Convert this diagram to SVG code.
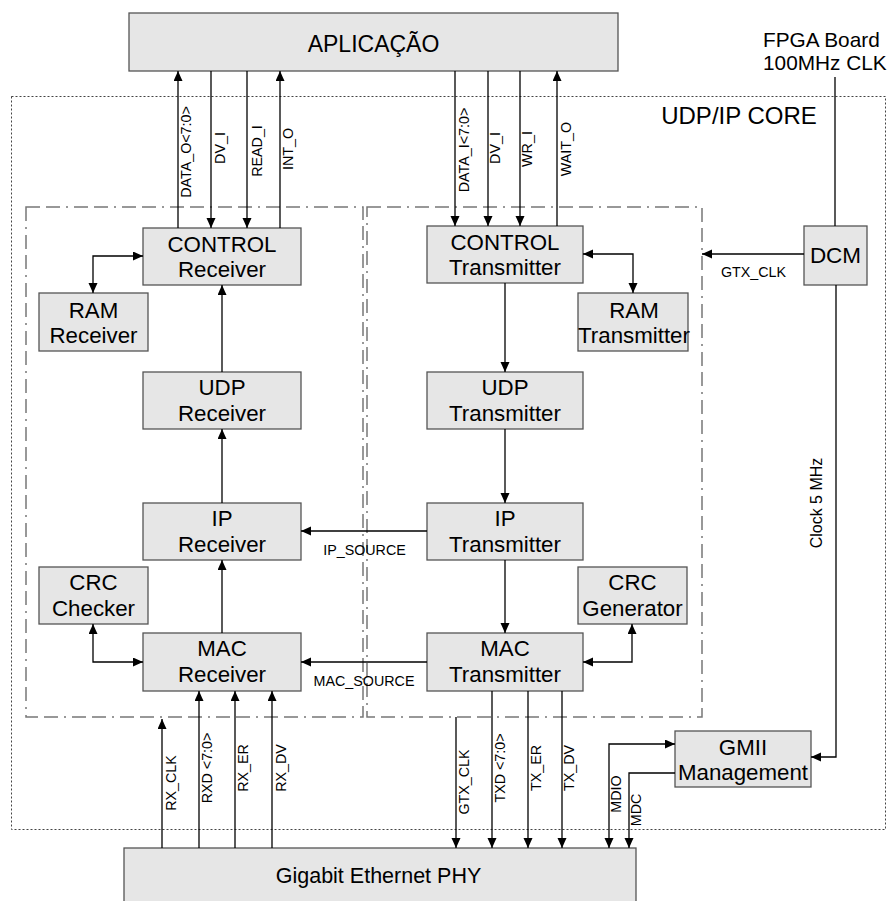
<svg xmlns="http://www.w3.org/2000/svg" width="887" height="901" viewBox="0 0 887 901">
<style>
text{font-family:"Liberation Sans",Arial,sans-serif;fill:#000}
.box{fill:#e6e6e6;stroke:#555;stroke-width:1.3}
.t{font-size:22.3px;text-anchor:middle}
.s{font-size:14.3px;text-anchor:middle}
.w{fill:none;stroke:#000;stroke-width:1.3}
.a{marker-end:url(#ah)}
.b{marker-start:url(#ah);marker-end:url(#ah)}
.grp{fill:none;stroke:#777;stroke-width:1.5;stroke-dasharray:14 6 14 6 2 6}
.core{fill:none;stroke:#444;stroke-width:1;stroke-dasharray:2 2}
</style>
<defs>
<marker id="ah" markerUnits="userSpaceOnUse" markerWidth="11" markerHeight="10" refX="10" refY="4.5" orient="auto-start-reverse">
<path d="M0,0 L10,4.5 L0,9 z" fill="#000"/>
</marker>
</defs>

<rect class="core" x="11.5" y="96.5" width="874" height="733"/>
<text x="739" y="124" style="font-size:24px;text-anchor:middle">UDP/IP CORE</text>
<rect class="grp" x="26" y="207" width="337" height="510"/>
<rect class="grp" x="367" y="207" width="335" height="510"/>

<g id="aplicacao"><rect class="box" x="129" y="13" width="489" height="58"/><text class="t" x="373.5" y="52" style="font-size:23px">APLICAÇÃO</text></g>
<g id="fpga"><text x="763" y="47" style="font-size:20.8px">FPGA Board</text><text x="763" y="70" style="font-size:20.8px">100MHz CLK</text></g>
<g id="dcm"><rect class="box" x="804" y="226" width="63" height="59"/><text class="t" x="835.5" y="263" style="font-size:22.5px">DCM</text></g>

<g id="control-rx"><rect class="box" x="143" y="228" width="158" height="57"/><text class="t" x="222" y="252">CONTROL</text><text class="t" x="222" y="277">Receiver</text></g>
<g id="ram-rx"><rect class="box" x="39" y="293" width="109" height="58"/><text class="t" x="93.5" y="318">RAM</text><text class="t" x="93.5" y="343">Receiver</text></g>
<g id="udp-rx"><rect class="box" x="143" y="372" width="158" height="57"/><text class="t" x="222" y="395">UDP</text><text class="t" x="222" y="421">Receiver</text></g>
<g id="ip-rx"><rect class="box" x="143" y="503" width="158" height="57"/><text class="t" x="222" y="526">IP</text><text class="t" x="222" y="552">Receiver</text></g>
<g id="crc-checker"><rect class="box" x="39" y="567" width="109" height="57"/><text class="t" x="93.5" y="590">CRC</text><text class="t" x="93.5" y="616">Checker</text></g>
<g id="mac-rx"><rect class="box" x="143" y="633" width="158" height="58"/><text class="t" x="222" y="656">MAC</text><text class="t" x="222" y="682">Receiver</text></g>

<g id="control-tx"><rect class="box" x="427" y="226" width="156" height="57"/><text class="t" x="505" y="250">CONTROL</text><text class="t" x="505" y="275">Transmitter</text></g>
<g id="ram-tx"><rect class="box" x="578" y="293" width="110" height="58"/><text class="t" x="634" y="318">RAM</text><text class="t" x="634" y="343">Transmitter</text></g>
<g id="udp-tx"><rect class="box" x="427" y="372" width="156" height="57"/><text class="t" x="505" y="395">UDP</text><text class="t" x="505" y="421">Transmitter</text></g>
<g id="ip-tx"><rect class="box" x="427" y="503" width="156" height="57"/><text class="t" x="505" y="526">IP</text><text class="t" x="505" y="552">Transmitter</text></g>
<g id="crc-generator"><rect class="box" x="578" y="567" width="109" height="57"/><text class="t" x="632.5" y="590">CRC</text><text class="t" x="632.5" y="616">Generator</text></g>
<g id="mac-tx"><rect class="box" x="427" y="633" width="156" height="58"/><text class="t" x="505" y="656">MAC</text><text class="t" x="505" y="682">Transmitter</text></g>

<g id="gmii"><rect class="box" x="675" y="731" width="136" height="56"/><text class="t" x="743" y="755">GMII</text><text class="t" x="743" y="780">Management</text></g>
<g id="phy"><rect class="box" x="124" y="848" width="512" height="60"/><text class="t" x="378.5" y="883" style="font-size:21.5px">Gigabit Ethernet PHY</text></g>

<g id="connectors">
<path class="w a" d="M178,228 V71"/>
<path class="w a" d="M211,71 V228"/>
<path class="w a" d="M247,71 V228"/>
<path class="w a" d="M280,228 V71"/>
<path class="w a" d="M455,71 V226"/>
<path class="w a" d="M488,71 V226"/>
<path class="w a" d="M520,71 V226"/>
<path class="w a" d="M557,226 V71"/>

<path class="w b" d="M93,293 V256 H143"/>
<path class="w b" d="M583,254 H633 V293"/>
<path class="w a" d="M222,372 V285"/>
<path class="w a" d="M222,503 V429"/>
<path class="w a" d="M222,633 V560"/>
<path class="w a" d="M505,283 V372"/>
<path class="w a" d="M505,429 V503"/>
<path class="w a" d="M505,560 V633"/>
<path class="w a" d="M427,531 H301"/>
<path class="w a" d="M427,662 H301"/>
<path class="w b" d="M93,624 V662 H143"/>
<path class="w b" d="M632,624 V662 H583"/>

<path class="w" d="M835,77 V226"/>
<path class="w a" d="M804,254 H702"/>
<path class="w a" d="M836,285 V757 H811"/>

<path class="w a" d="M162,848 V719"/>
<path class="w a" d="M199,848 V691"/>
<path class="w a" d="M235,848 V691"/>
<path class="w a" d="M272,848 V691"/>
<path class="w a" d="M456,717 V848"/>
<path class="w a" d="M492,691 V848"/>
<path class="w a" d="M528,691 V848"/>
<path class="w a" d="M562,691 V848"/>
<path class="w b" d="M609,848 V744 H675"/>
<path class="w a" d="M675,773 H629 V848"/>

<text class="s" transform="translate(191,152) rotate(-90)">DATA_O&lt;7:0&gt;</text>
<text class="s" transform="translate(225,148) rotate(-90)">DV_I</text>
<text class="s" transform="translate(262,151) rotate(-90)">READ_I</text>
<text class="s" transform="translate(293,149) rotate(-90)">INT_O</text>
<text class="s" transform="translate(469,150) rotate(-90)">DATA_I&lt;7:0&gt;</text>
<text class="s" transform="translate(500,148) rotate(-90)">DV_I</text>
<text class="s" transform="translate(532,149) rotate(-90)">WR_I</text>
<text class="s" transform="translate(571,149) rotate(-90)">WAIT_O</text>
<text class="s" x="753.5" y="277">GTX_CLK</text>
<text class="s" transform="translate(822,503) rotate(-90)" style="font-size:16px">Clock 5 MHz</text>
<text class="s" x="364.5" y="555">IP_SOURCE</text>
<text class="s" x="364" y="686">MAC_SOURCE</text>
<text class="s" transform="translate(176,783) rotate(-90)">RX_CLK</text>
<text class="s" transform="translate(212,768) rotate(-90)">RXD &lt;7:0&gt;</text>
<text class="s" transform="translate(248,768) rotate(-90)">RX_ER</text>
<text class="s" transform="translate(286,768) rotate(-90)">RX_DV</text>
<text class="s" transform="translate(469,782) rotate(-90)">GTX_CLK</text>
<text class="s" transform="translate(505,768) rotate(-90)">TXD &lt;7:0&gt;</text>
<text class="s" transform="translate(541,768) rotate(-90)">TX_ER</text>
<text class="s" transform="translate(574,768) rotate(-90)">TX_DV</text>
<text class="s" transform="translate(621,794) rotate(-90)">MDIO</text>
<text class="s" transform="translate(641,810) rotate(-90)">MDC</text>
</g>
</svg>
